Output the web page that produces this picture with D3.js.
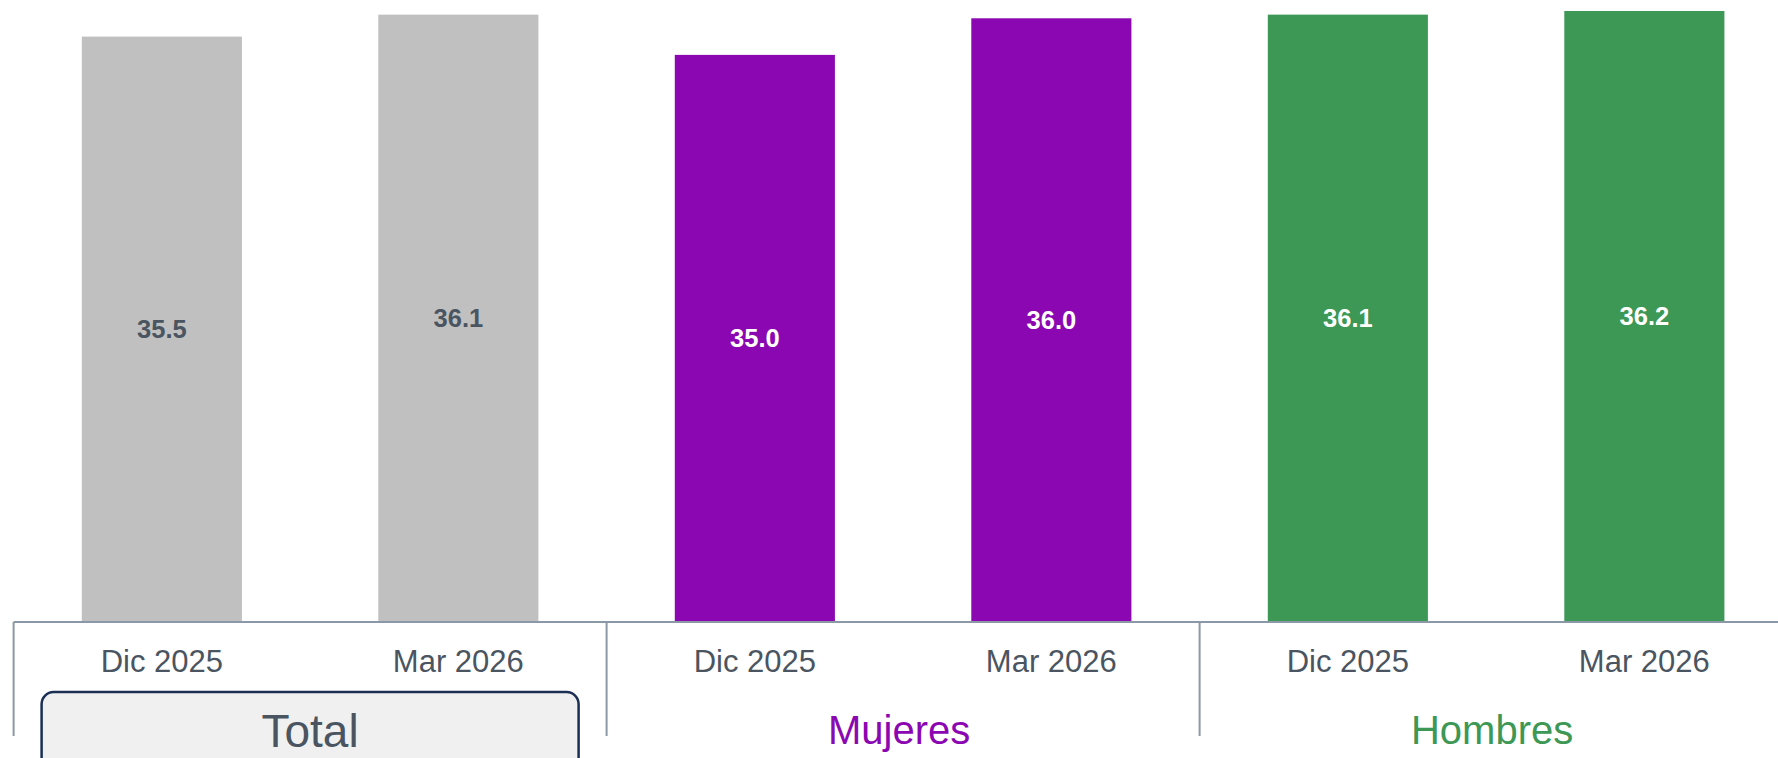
<!DOCTYPE html>
<html>
<head>
<meta charset="utf-8">
<script src="https://cdn.jsdelivr.net/npm/d3@7"></script>
<style>
  html, body { margin: 0; padding: 0; background: #ffffff; }
  svg { display: block; font-family: "Liberation Sans", Arial, sans-serif; }
</style>
</head>
<body>
<svg id="chart" width="1778" height="758"></svg>
<script>
'use strict'

// data
const groups = ['Total', 'Mujeres', 'Hombres']
const periods = ['Dic 2025', 'Mar 2026']
const totalValues = [35.5, 36.1]
const mujeresValues = [35.0, 36.0]
const hombresValues = [36.1, 36.2]

const groupColors = ['#c0c0c0', '#8a07b1', '#3d9755']
const groupTextColors = ['#4a5561', '#8a07b1', '#3d9755']
const labelColors = ['#4a5561', '#ffffff', '#ffffff']

const WIDTH = 1778
const LEFT = 13.6
const RIGHT = LEFT + 6 * 296.5
const BASE = 622

const rows = []
;[totalValues, mujeresValues, hombresValues].forEach((vals, gi) => {
  vals.forEach((v, pi) => {
    rows.push({ key: `${groups[gi]}|${periods[pi]}`, group: groups[gi], gi, period: periods[pi], value: v })
  })
})

const svg = d3.select('#chart')

const x = d3.scaleBand()
  .domain(rows.map(d => d.key))
  .range([LEFT, RIGHT])
  .paddingInner(0.46)
  .paddingOuter(0.23)

const xGroup = d3.scaleBand()
  .domain(groups)
  .range([LEFT, RIGHT])

const y = d3.scaleLinear()
  .domain([19.5, 36.5])
  .range([BASE, 0])

// bars
svg.append('g').attr('class', 'bars')
  .selectAll('rect')
  .data(rows)
  .enter().append('rect')
  .attr('x', d => x(d.key))
  .attr('y', d => y(d.value))
  .attr('width', x.bandwidth())
  .attr('height', d => BASE - y(d.value))
  .attr('fill', d => groupColors[d.gi])

// value labels in the middle of each bar
svg.append('g').attr('class', 'values')
  .selectAll('text')
  .data(rows)
  .enter().append('text')
  .attr('x', d => x(d.key) + x.bandwidth() / 2)
  .attr('y', d => (y(d.value) + BASE) / 2)
  .attr('text-anchor', 'middle')
  .attr('dominant-baseline', 'central')
  .attr('font-size', 25.5)
  .attr('font-weight', 'bold')
  .attr('fill', d => labelColors[d.gi])
  .text(d => d3.format('.1f')(d.value))

// axis line and group separators
svg.append('line')
  .attr('x1', LEFT).attr('x2', WIDTH)
  .attr('y1', BASE).attr('y2', BASE)
  .attr('stroke', '#8b98a5').attr('stroke-width', 2)

svg.append('g').attr('class', 'separators')
  .selectAll('line')
  .data(groups)
  .enter().append('line')
  .attr('x1', g => xGroup(g)).attr('x2', g => xGroup(g))
  .attr('y1', BASE).attr('y2', 736)
  .attr('stroke', '#8b98a5').attr('stroke-width', 2)

// period tick labels
svg.append('g').attr('class', 'ticks')
  .selectAll('text')
  .data(rows)
  .enter().append('text')
  .attr('x', d => x(d.key) + x.bandwidth() / 2)
  .attr('y', 672)
  .attr('text-anchor', 'middle')
  .attr('font-size', 31)
  .attr('fill', '#4a5561')
  .text(d => d.period)

// highlighted box behind the first group's name
const boxInset = 28
svg.append('rect')
  .attr('x', xGroup(groups[0]) + boxInset)
  .attr('y', 692)
  .attr('width', xGroup.bandwidth() - boxInset * 2)
  .attr('height', 90)
  .attr('rx', 12)
  .attr('fill', '#f0f0f0')
  .attr('stroke', '#1b2f55')
  .attr('stroke-width', 2.5)

// group names
svg.append('g').attr('class', 'groups')
  .selectAll('text')
  .data(groups)
  .enter().append('text')
  .attr('x', (g, i) => xGroup(g) + xGroup.bandwidth() / 2 - (i === 0 ? 0 : 4))
  .attr('y', (g, i) => i === 0 ? 747 : 744)
  .attr('text-anchor', 'middle')
  .attr('font-size', (g, i) => i === 0 ? 46 : 40)
  .attr('fill', (g, i) => groupTextColors[i])
  .text(g => g)
</script>
</body>
</html>
